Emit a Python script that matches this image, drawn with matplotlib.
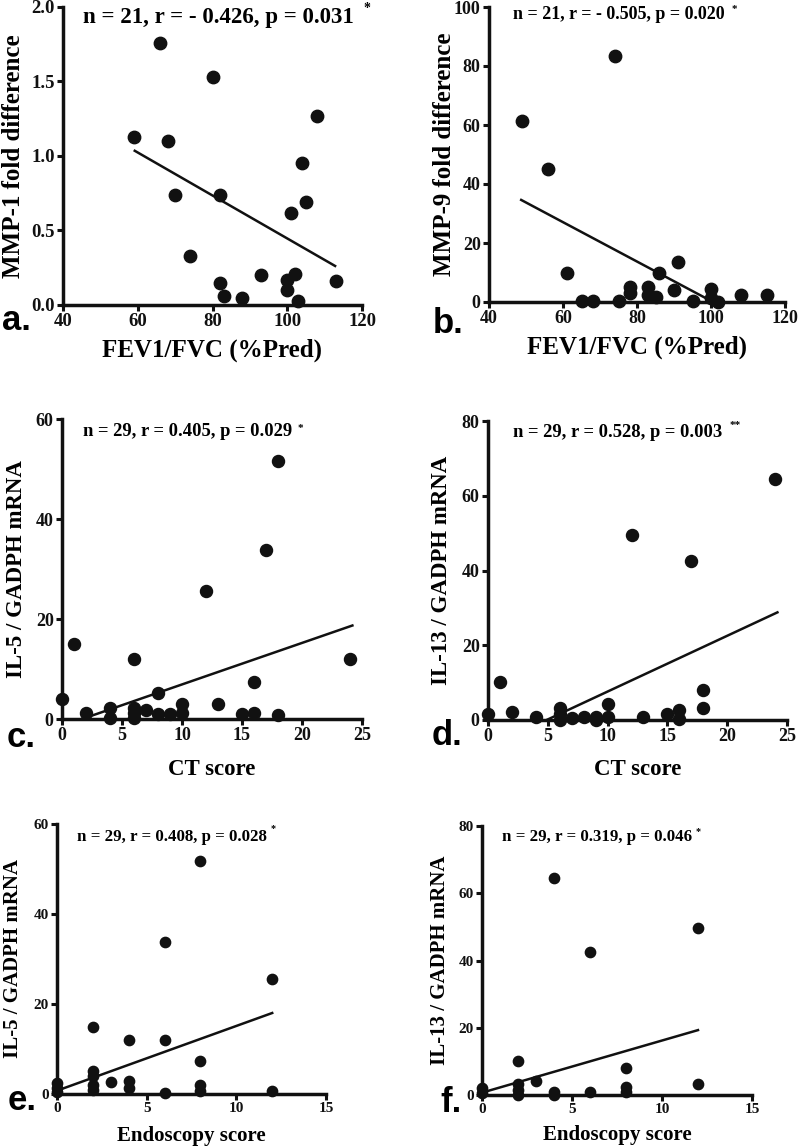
import matplotlib
matplotlib.use("Agg")
import matplotlib.pyplot as plt

plt.rcParams['font.family'] = ['Liberation Serif', 'DejaVu Serif']
plt.rcParams['font.weight'] = 'bold'

# ---- panel a : MMP-1 vs FEV1/FVC ----
a_x = [59, 66, 68, 70, 74, 80, 82, 82, 83, 88, 93, 100, 100, 101, 102, 103, 104, 105, 108, 113]
a_y = [1.13, 1.76, 1.10, 0.74, 0.33, 1.53, 0.74, 0.15, 0.06, 0.05, 0.20, 0.17, 0.10, 0.62, 0.21, 0.03, 0.95, 0.69, 1.27, 0.16]
a_fit_x = [59.2, 112.8]
a_fit_y = [1.035, 0.262]

# ---- panel b : MMP-9 vs FEV1/FVC ----
b_x = [49, 56, 74, 61, 65, 68, 75, 78, 78, 83, 83, 85, 86, 90, 91, 95, 100, 100, 102, 108, 115]
b_y = [61.4, 45.1, 83.4, 10.0, 0.2, 0.5, 0.5, 5.1, 3.0, 5.1, 2.5, 1.6, 10.0, 3.9, 13.6, 0.2, 4.4, 1.4, 0.1, 2.3, 2.3]
b_fit_x = [48.7, 99.8]
b_fit_y = [34.6, 0.5]

# ---- panel c : IL-5 vs CT score ----
c_x = [0, 1, 2, 4, 4, 6, 6, 6, 6, 7, 8, 8, 9, 10, 10, 12, 13, 15, 16, 16, 17, 18, 18, 24]
c_y = [4.0, 15.0, 1.2, 2.3, 0.2, 12.0, 2.2, 1.2, 0.2, 1.9, 5.2, 1.0, 1.0, 3.0, 1.2, 25.7, 3.0, 1.0, 1.3, 7.5, 33.9, 51.7, 0.9, 12.0]
c_fit_x = [2.0, 24.2]
c_fit_y = [0.27, 18.7]

# ---- panel d : IL-13 vs CT score ----
d_x = [0, 1, 2, 4, 6, 6, 6, 7, 8, 9, 9, 10, 10, 12, 13, 15, 16, 16, 17, 18, 18, 24]
d_y = [1.6, 10.2, 2.2, 0.9, 3.3, 1.5, 0.0, 0.6, 0.9, 0.9, 0.0, 4.3, 0.7, 49.5, 0.9, 1.6, 2.7, 0.4, 42.5, 8.0, 3.3, 64.4]
d_fit_x = [4.9, 24.2]
d_fit_y = [0.0, 28.8]

# ---- panel e : IL-5 vs Endoscopy score ----
e_x = [0, 0, 0, 2, 2, 2, 2, 2, 3, 4, 4, 4, 6, 6, 6, 8, 8, 8, 8, 12, 12]
e_y = [2.4, 1.3, 0.4, 14.8, 5.2, 3.9, 2.1, 1.0, 2.7, 11.9, 2.8, 1.3, 33.8, 11.9, 0.2, 51.7, 7.4, 1.9, 0.7, 25.6, 0.7]
e_fit_x = [0.0, 12.0]
e_fit_y = [0.74, 18.0]

# ---- panel f : IL-13 vs Endoscopy score ----
f_x = [0, 0, 2, 2, 2, 2, 3, 4, 4, 4, 6, 6, 8, 8, 8, 12, 12]
f_y = [2.2, 0.7, 10.2, 3.3, 1.5, 0.0, 4.3, 64.4, 1.0, 0.0, 42.4, 1.0, 7.9, 2.5, 1.0, 49.6, 3.3]
f_fit_x = [0.0, 12.0]
f_fit_y = [0.7, 19.3]


def panel(ax, x, y, fx, fy, xlim, ylim, xticks, yticks, yfmt, xlabel, ylabel,
          stats, star, letter, tick_fs, lab_fs, stat_fs, ms, stat_pos, star_pos,
          xlab_y, ylab_x, letter_pos):
    ax.scatter(x, y, s=ms, color='#111111', zorder=3, clip_on=False)
    ax.plot(fx, fy, color='#111111', lw=1.8, zorder=2)
    ax.set_xlim(xlim)
    ax.set_ylim(ylim)
    ax.set_xticks(xticks)
    ax.set_yticks(yticks)
    ax.set_yticklabels([yfmt.format(v) for v in yticks])
    for s in ['top', 'right']:
        ax.spines[s].set_visible(False)
    for s in ['left', 'bottom']:
        ax.spines[s].set_linewidth(2.5)
        ax.spines[s].set_color('#111111')
    ax.tick_params(direction='out', length=4, width=2.2, labelsize=tick_fs,
                   pad=2, colors='#111111')
    ax.set_xlabel(xlabel, fontsize=lab_fs, fontweight='bold')
    ax.set_ylabel(ylabel, fontsize=lab_fs, fontweight='bold')
    ax.xaxis.set_label_coords(0.5, xlab_y)
    ax.xaxis.label.set_va('center')
    ax.yaxis.set_label_coords(ylab_x, 0.5)
    ax.yaxis.label.set_va('center')
    ax.text(stat_pos[0], stat_pos[1], stats, transform=ax.transAxes,
            fontsize=stat_fs, fontweight='bold', ha='left', va='center')
    ax.text(star_pos[0], star_pos[1], star, transform=ax.transAxes,
            fontsize=stat_fs * 0.6, ha='center', va='center', clip_on=False)
    ax.figure.text(letter_pos[0], letter_pos[1], letter, fontsize=25,
                   fontweight='bold', family='Liberation Sans',
                   ha='left', va='baseline')


fig = plt.figure(figsize=(7.99, 11.47), dpi=100)
W, H = 799.0, 1147.0


def add(l, r, t, b):
    return fig.add_axes([l / W, 1 - b / H, (r - l) / W, (b - t) / H])


ax_a = add(63, 362, 7, 305)
ax_b = add(489, 785, 7, 302)
ax_c = add(62, 362, 419, 719)
ax_d = add(488, 787, 421, 720)
ax_e = add(57, 326, 824, 1094)
ax_f = add(482, 752, 826, 1095)

panel(ax_a, a_x, a_y, a_fit_x, a_fit_y, (40, 120), (0, 2.0), [40, 60, 80, 100, 120],
      [0, 0.5, 1.0, 1.5, 2.0], '{:.1f}', 'FEV1/FVC (%Pred)', 'MMP-1 fold difference',
      'n = 21, r = - 0.426, p = 0.031', '*', 'a.', 13.5, 18, 16.5, 80,
      (0.067, 0.966), (1.017, 0.995), -0.151, -0.164, (2 / W, 1 - 330 / H))

panel(ax_b, b_x, b_y, b_fit_x, b_fit_y, (40, 120), (0, 100), [40, 60, 80, 100, 120],
      [0, 20, 40, 60, 80, 100], '{:.0f}', 'FEV1/FVC (%Pred)', 'MMP-9 fold difference',
      'n = 21, r = - 0.505, p = 0.020', '*', 'b.', 13, 18, 13, 80,
      (0.081, 0.973), (0.828, 0.99), -0.153, -0.152, (433 / W, 1 - 333 / H))

panel(ax_c, c_x, c_y, c_fit_x, c_fit_y, (0, 25), (0, 60), [0, 5, 10, 15, 20, 25],
      [0, 20, 40, 60], '{:.0f}', 'CT score', 'IL-5 / GADPH mRNA',
      'n = 29, r = 0.405, p = 0.029', '*', 'c.', 13, 16.5, 13.4, 75,
      (0.07, 0.957), (0.793, 0.97), -0.167, -0.153, (7 / W, 1 - 747 / H))

panel(ax_d, d_x, d_y, d_fit_x, d_fit_y, (0, 25), (0, 80), [0, 5, 10, 15, 20, 25],
      [0, 20, 40, 60, 80], '{:.0f}', 'CT score', 'IL-13 / GADPH mRNA',
      'n = 29, r = 0.528, p = 0.003', '**', 'd.', 13, 16.5, 13.4, 75,
      (0.084, 0.96), (0.826, 0.985), -0.164, -0.157, (432 / W, 1 - 745 / H))

panel(ax_e, e_x, e_y, e_fit_x, e_fit_y, (0, 15), (0, 60), [0, 5, 10, 15],
      [0, 20, 40, 60], '{:.0f}', 'Endoscopy score', 'IL-5 / GADPH mRNA',
      'n = 29, r = 0.408, p = 0.028', '*', 'e.', 11, 15, 12.2, 55,
      (0.074, 0.952), (0.803, 0.985), -0.156, -0.162, (8 / W, 1 - 1110 / H))

panel(ax_f, f_x, f_y, f_fit_x, f_fit_y, (0, 15), (0, 80), [0, 5, 10, 15],
      [0, 20, 40, 60, 80], '{:.0f}', 'Endoscopy score', 'IL-13 / GADPH mRNA',
      'n = 29, r = 0.319, p = 0.046', '*', 'f.', 11, 15, 12.2, 55,
      (0.074, 0.959), (0.8, 0.978), -0.149, -0.156, (440 / W, 1 - 1112 / H))

fig.savefig('out.png', dpi=100)
